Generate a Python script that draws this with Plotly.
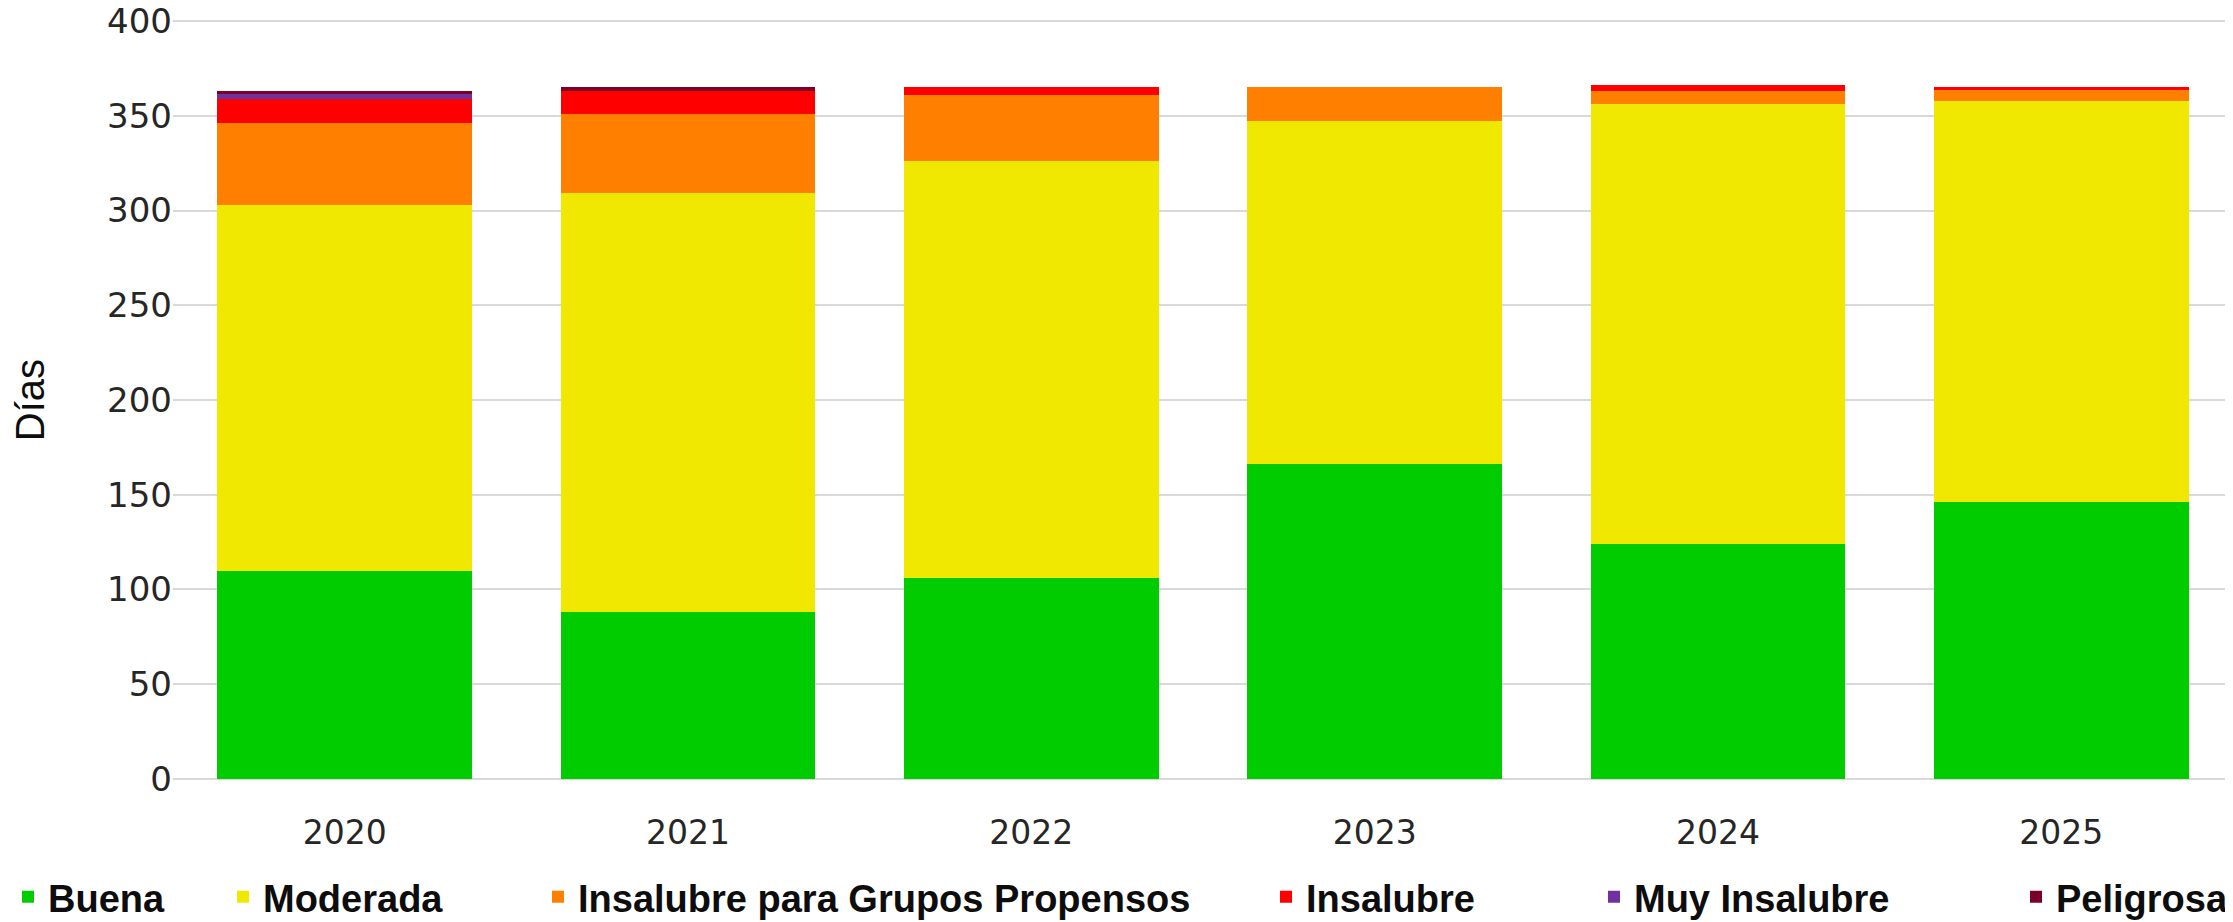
import plotly.graph_objects as go

years = ["2020", "2021", "2022", "2023", "2024", "2025"]
buena = [110, 88, 106, 166, 124, 146]
moderada = [193, 221, 220, 181, 232, 212]
insalubre_gp = [43, 42, 35, 18, 7, 6]
insalubre = [13, 12, 4, 0, 3, 1]
muy_insalubre = [3, 0, 0, 0, 0, 0]
peligrosa = [1, 2, 0, 0, 0, 0]

series = [
    ("Buena", buena, "#00CC00"),
    ("Moderada", moderada, "#F0E800"),
    ("Insalubre para Grupos Propensos", insalubre_gp, "#FF8000"),
    ("Insalubre", insalubre, "#FF0000"),
    ("Muy Insalubre", muy_insalubre, "#7030A0"),
    ("Peligrosa", peligrosa, "#7B0028"),
]

# the page body adds an 8px offset; size the figure so it ends at the window edge
OFF = 8
W, H = 2233 - OFF, 922 - OFF
legend_text_x = [31, 264, 579, 1307, 1635, 2057]   # page px where entry text starts
legend_y_page = 897

fig = go.Figure()
legend_ids = ["legend", "legend2", "legend3", "legend4", "legend5", "legend6"]
for (name, vals, col), lid in zip(series, legend_ids):
    fig.add_trace(go.Bar(
        x=years, y=vals, name=name, marker=dict(color=col, line=dict(width=0)),
        legend=lid,
    ))

legend_font = dict(family="Liberation Sans", size=38, color="#0d0d0d", weight="bold")
legend_layouts = {}
for lid, tx in zip(legend_ids, legend_text_x):
    lx = max(0, tx - OFF - 41)
    legend_layouts[lid] = dict(
        orientation="h", xref="container", yref="container",
        x=lx / W, y=1 - (legend_y_page - OFF) / H, xanchor="left", yanchor="middle",
        font=legend_font, bgcolor="rgba(0,0,0,0)", borderwidth=0,
    )

fig.update_layout(
    width=W, height=H,
    barmode="stack", bargap=0.258,
    plot_bgcolor="white", paper_bgcolor="white",
    margin=dict(l=173 - OFF, r=0, t=12, b=142, autoexpand=False),
    showlegend=True,
    xaxis=dict(
        showgrid=False, showline=False, zeroline=False, ticks="",
        tickfont=dict(family="DejaVu Sans", size=33, color="#262626"),
        ticklabelstandoff=30,
    ),
    yaxis=dict(
        range=[-0.55, 400.55], tickvals=[0, 50, 100, 150, 200, 250, 300, 350, 400],
        showgrid=True, gridcolor="#D9D9D9", gridwidth=2,
        zeroline=False, showline=False, ticks="", ticklabeloverflow="allow",
        tickfont=dict(family="DejaVu Sans", size=34, color="#262626"),
        title=dict(text="Días", font=dict(family="Liberation Sans", size=40, color="#0d0d0d"), standoff=72),
    ),
    **legend_layouts,
)

fig.write_html("out.html")
